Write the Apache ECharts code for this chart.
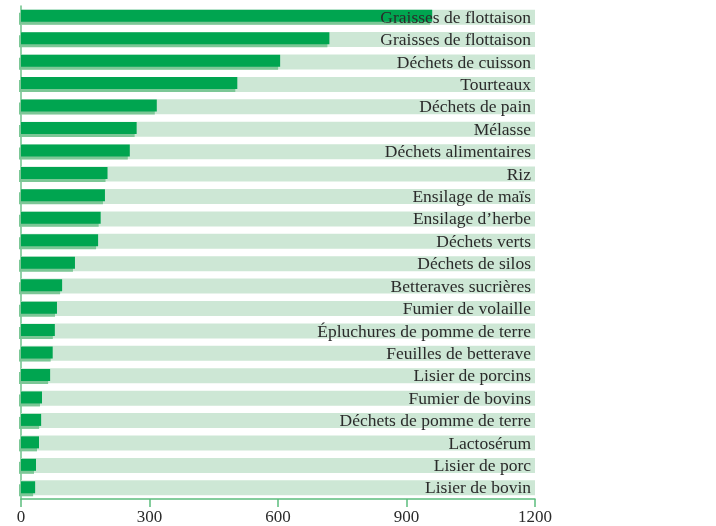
<!DOCTYPE html>
<html><head><meta charset="utf-8">
<script src="https://cdn.jsdelivr.net/npm/echarts@6/dist/echarts.min.js"></script>
<style>html,body{margin:0;padding:0;background:#fff}#c{width:716px;height:526px}</style>
</head><body><div id="c"></div>
<script>
const categories = ["Graisses de flottaison","Graisses de flottaison","Déchets de cuisson","Tourteaux","Déchets de pain","Mélasse","Déchets alimentaires","Riz","Ensilage de maïs","Ensilage d’herbe","Déchets verts","Déchets de silos","Betteraves sucrières","Fumier de volaille","Épluchures de pomme de terre","Feuilles de betterave","Lisier de porcins","Fumier de bovins","Déchets de pomme de terre","Lactosérum","Lisier de porc","Lisier de bovin"];
const values = [960,720,605,505,317,270,254,202,196,186,180,126,96,84,79,74,68,49,47,42,35,33];
const fullScale = categories.map(() => 1200);
const tickValues = [0,300,600,900,1200];

const FONT = "Liberation Serif, DejaVu Serif, serif";
const chart = echarts.init(document.getElementById('c'), null, {renderer:'canvas'});
chart.setOption({
  animation:false,
  grid:[
    {left:21, right:181, top:6, height:494},
    {left:21, right:181, top:4.5, height:494}
  ],
  xAxis:[
    {gridIndex:0, type:'value', min:tickValues[0], max:tickValues[tickValues.length-1], interval:tickValues[1]-tickValues[0],
     axisLine:{show:true, lineStyle:{color:'#5cbd7e', width:1.5}},
     axisTick:{show:true, length:8, lineStyle:{color:'#5cbd7e', width:1.5}},
     axisLabel:{color:'#2b2b2b', fontFamily:FONT, fontSize:17, margin:10, formatter:v => String(v)},
     splitLine:{show:false}},
    {gridIndex:1, type:'value', min:0, max:1200, show:false}
  ],
  yAxis:[
    {gridIndex:0, type:'category', data:categories, inverse:true,
     axisLine:{show:true, lineStyle:{color:'#6cc28a', width:1.5}},
     axisTick:{show:false}, axisLabel:{show:false}},
    {gridIndex:1, type:'category', data:categories, inverse:true, show:false}
  ],
  series:[
    {type:'bar', xAxisIndex:0, yAxisIndex:0, data:fullScale, barWidth:15,
     itemStyle:{color:'#cde7d5'}, silent:true},
    {type:'bar', xAxisIndex:1, yAxisIndex:1, data:values, barWidth:12,
     itemStyle:{color:'#00a550', shadowColor:'#7cc796', shadowBlur:0, shadowOffsetX:-2, shadowOffsetY:3}},
    {type:'bar', xAxisIndex:0, yAxisIndex:0, data:fullScale, barWidth:15, barGap:'-100%',
     itemStyle:{color:'rgba(0,0,0,0)'},
     label:{show:true, position:'insideRight', distance:4, offset:[0,1], formatter:'{b}', color:'#2b2b2b', fontFamily:FONT, fontSize:17.5}}
  ]
});
</script></body></html>
